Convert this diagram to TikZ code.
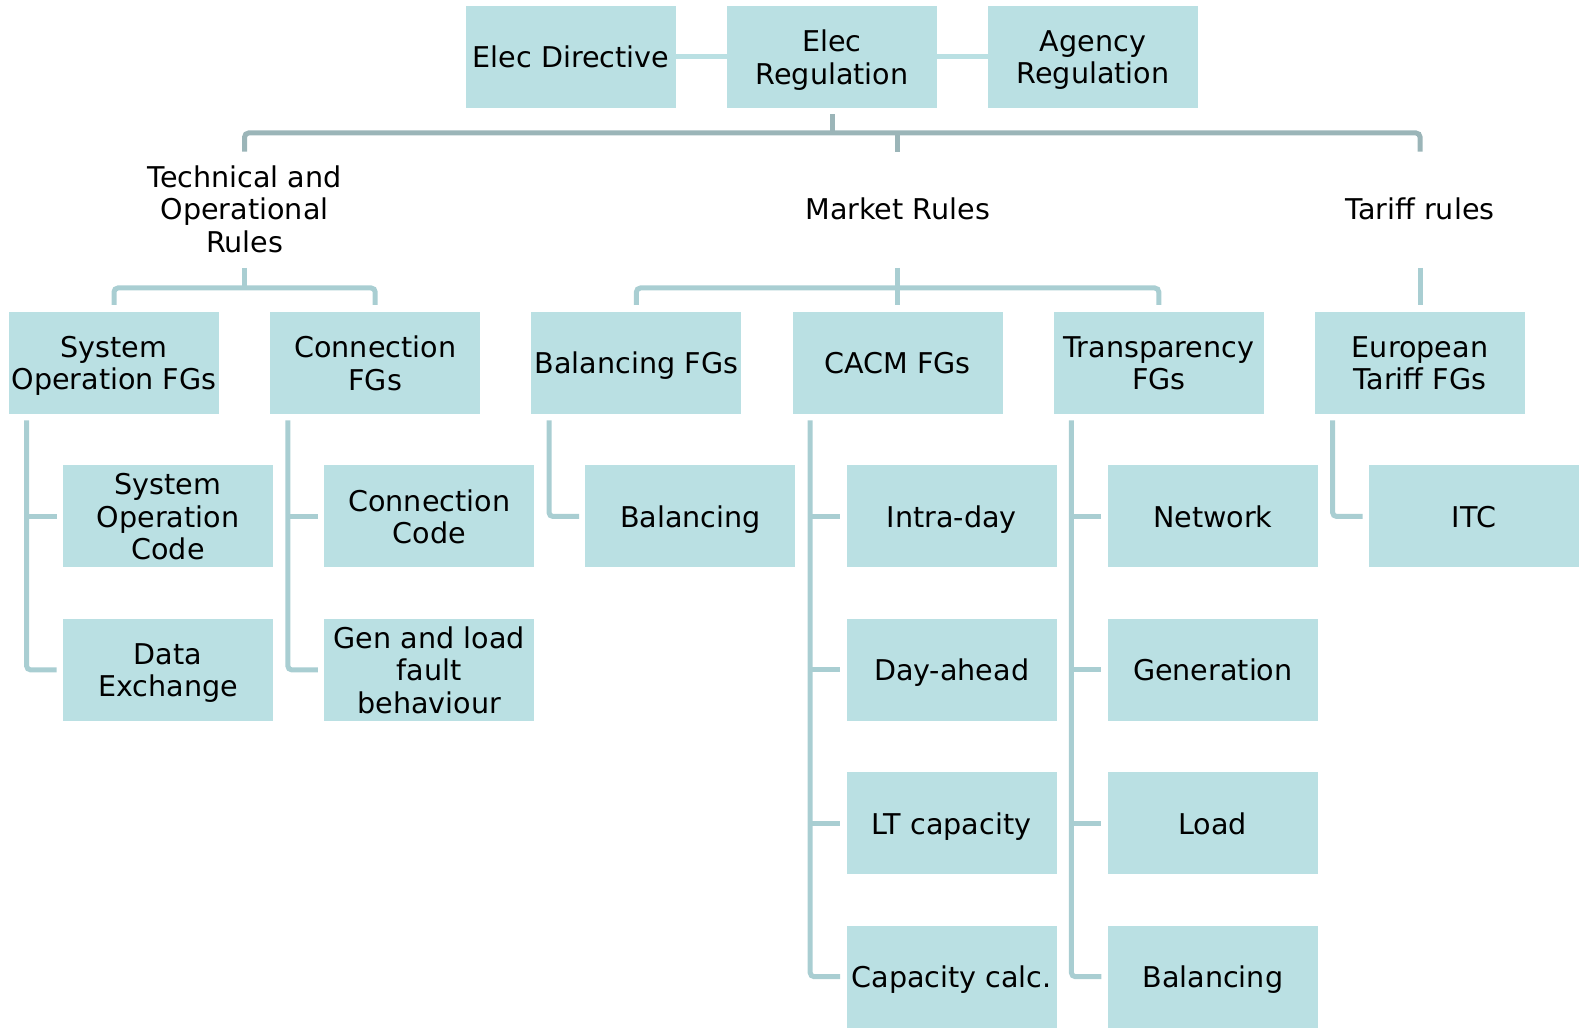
\documentclass[tikz,border=0pt]{standalone}
\usepackage{fontspec}
\setmainfont{DejaVu Sans}
\usetikzlibrary{calc}
\definecolor{boxfill}{HTML}{BAE0E3}
\definecolor{subline}{HTML}{A9CED2}
\definecolor{busline}{HTML}{9BB5B8}
\tikzset{
  box/.style={fill=boxfill, minimum width=105pt, minimum height=51pt, inner sep=0pt, align=center, font=\fontsize{14.3}{16.2}\selectfont, text depth=0pt},
  lbl/.style={inner sep=0pt, align=center, font=\fontsize{14.3}{16.2}\selectfont, text depth=0pt},
  bus/.style={draw=busline, line width=2.5pt, rounded corners=2pt},
  sub/.style={draw=subline, line width=2.5pt, rounded corners=2pt},
  topl/.style={draw=boxfill, line width=2.5pt}
}
\begin{document}
\begin{tikzpicture}[x=0.5pt,y=-0.5pt]
\useasboundingbox (0,0) rectangle (1585,1031);
% top row
\node[box] (dir) at (571,57) {Elec Directive};
\node[box] (reg) at (832,57) {Elec\\Regulation};
\node[box] (agy) at (1093,57) {Agency\\Regulation};
\draw[topl] (dir.east) -- (reg.west);
\draw[topl] (reg.east) -- (agy.west);
% level 2 labels
\node[lbl] (tech) at (244.6,209) {Technical and\\Operational\\Rules};
\node[lbl] (mkt) at (897.7,209) {Market Rules};
\node[lbl] (tar) at (1420,209) {Tariff rules};
% main bus
\draw[bus] ($(reg.south)+(0,6)$) -- (reg.south |- 0,133);
\draw[bus] (tech.center |- 0,151.6) -- (tech.center |- 0,133) -- (tar.center |- 0,133) -- (tar.center |- 0,151.6);
\draw[bus] (mkt.center |- 0,133) -- (mkt.center |- 0,151.6);
% level 3 boxes
\foreach \n/\t [count=\i from 0] in {so/{System\\Operation FGs}, cn/{Connection\\FGs}, bf/{Balancing FGs}, ca/{CACM FGs}, tr/{Transparency\\FGs}, et/{European\\Tariff FGs}}{
  \node[box] (\n) at ({114+261.2*\i},363) {\t};
  \coordinate (\n-v) at ($(\n.south west)+(18,6)$);
}
% level 2 -> level 3
\draw[sub] (tech.center |- 0,268) -- (tech.center |- 0,288);
\draw[sub] (so.north |- 0,305) -- (so.north |- 0,288) -- (cn.north |- 0,288) -- (cn.north |- 0,305);
\draw[sub] (mkt.center |- 0,268) -- (mkt.center |- 0,305);
\draw[sub] (bf.north |- 0,305) -- (bf.north |- 0,288) -- (tr.north |- 0,288) -- (tr.north |- 0,305);
\draw[sub] (tar.center |- 0,268) -- (tar.center |- 0,305);
% level 4 boxes
\node[box] (so1) at (168,516.5) {System\\Operation\\Code};
\node[box] (so2) at (168,669.9) {Data\\Exchange};
\node[box] (cn1) at (429.2,516.5) {Connection\\Code};
\node[box] (cn2) at (429.2,669.9) {Gen and load\\fault\\behaviour};
\node[box] (bf1) at (690.4,516.5) {Balancing};
\node[box] (ca1) at (951.6,516.5) {Intra-day};
\node[box] (ca2) at (951.6,669.9) {Day-ahead};
\node[box] (ca3) at (951.6,823.3) {LT capacity};
\node[box] (ca4) at (951.6,976.7) {Capacity calc.};
\node[box] (tr1) at (1212.8,516.5) {Network};
\node[box] (tr2) at (1212.8,669.9) {Generation};
\node[box] (tr3) at (1212.8,823.3) {Load};
\node[box] (tr4) at (1212.8,976.7) {Balancing};
\node[box] (et1) at (1474,516.5) {ITC};
% level 3 -> level 4
\foreach \p/\last/\others in {so/so2/{so1}, cn/cn2/{cn1}, bf/bf1/{}, ca/ca4/{ca1,ca2,ca3}, tr/tr4/{tr1,tr2,tr3}, et/et1/{}}{
  \draw[sub] (\p-v) -- (\p-v |- \last.west) -- ([xshift=-3pt]\last.west);
  \foreach \c in \others {
    \draw[sub] (\p-v |- \c.west) -- ([xshift=-3pt]\c.west);
  }
}
\end{tikzpicture}
\end{document}
